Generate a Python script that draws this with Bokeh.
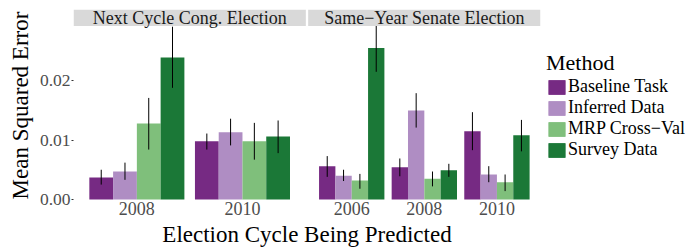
from bokeh.plotting import figure
from bokeh.models import (Range1d, FixedTicker, BoxAnnotation, Label, Legend,
                          LegendItem, ColumnDataSource, NumeralTickFormatter)
from bokeh.embed import file_html
from bokeh.resources import INLINE

# ---------------- data ----------------
methods = ["Baseline Task", "Inferred Data", "MRP Cross\u2212Val", "Survey Data"]
colors = ["#762A83", "#AF8DC3", "#7FBF7B", "#1B7837"]
facets = ["Next Cycle Cong. Election", "Same\u2212Year Senate Election"]

cong_years = ["2008", "2010"]
cong_mse = {
    "Baseline Task": [0.0037, 0.0098],
    "Inferred Data": [0.0047, 0.0113],
    "MRP Cross\u2212Val": [0.0128, 0.0098],
    "Survey Data": [0.0239, 0.0106],
}
cong_lo = {
    "Baseline Task": [0.0025, 0.0084],
    "Inferred Data": [0.0033, 0.0091],
    "MRP Cross\u2212Val": [0.0084, 0.0067],
    "Survey Data": [0.0188, 0.0078],
}
cong_hi = {
    "Baseline Task": [0.0050, 0.0111],
    "Inferred Data": [0.0062, 0.0136],
    "MRP Cross\u2212Val": [0.0171, 0.0129],
    "Survey Data": [0.0291, 0.0133],
}

sen_years = ["2006", "2008", "2010"]
sen_mse = {
    "Baseline Task": [0.0056, 0.0054, 0.0115],
    "Inferred Data": [0.0040, 0.0150, 0.0042],
    "MRP Cross\u2212Val": [0.0032, 0.0035, 0.0029],
    "Survey Data": [0.0255, 0.0049, 0.0108],
}
sen_lo = {
    "Baseline Task": [0.0038, 0.0039, 0.0083],
    "Inferred Data": [0.0031, 0.0121, 0.0029],
    "MRP Cross\u2212Val": [0.0018, 0.0022, 0.0014],
    "Survey Data": [0.0215, 0.0038, 0.0081],
}
sen_hi = {
    "Baseline Task": [0.0073, 0.0069, 0.0147],
    "Inferred Data": [0.0050, 0.0179, 0.0056],
    "MRP Cross\u2212Val": [0.0043, 0.0047, 0.0042],
    "Survey Data": [0.0295, 0.0060, 0.0134],
}

y_ticks = [0.0, 0.01, 0.02]
x_title = "Election Cycle Being Predicted"
y_title = "Mean Squared Error"

# ---------------- layout constants ----------------
FONT = "Liberation Serif"
GAP = 0.01                 # gap between the two facet panels (panel width = 1)
PANEL_X0 = [0.0, 1.0 + GAP]
DODGE_W = 0.9              # total width of a dodged group (in group units)
EXPAND = 0.6               # ggplot discrete expansion
Y0, Y1 = -0.00035, 0.032
STRIP_BOTTOM = 0.0292

p = figure(frame_width=467, frame_height=192,
           x_range=Range1d(0, 2 + GAP), y_range=Range1d(Y0, Y1),
           output_backend="svg", toolbar_location=None,
           min_border_left=73, min_border_top=9, min_border_right=0,
           min_border_bottom=0)
p.outline_line_color = None
p.grid.visible = False
p.background_fill_color = "white"
p.border_fill_color = "white"

facet_data = [
    (cong_years, cong_mse, cong_lo, cong_hi),
    (sen_years, sen_mse, sen_lo, sen_hi),
]

tick_pos, tick_lab = [], []
legend_renderers = {m: [] for m in methods}
nm = len(methods)
for fi, (years, mse, lo, hi) in enumerate(facet_data):
    n = len(years)
    span = n - 1 + 2 * EXPAND
    centers = [PANEL_X0[fi] + (EXPAND + g) / span for g in range(n)]
    tick_pos += centers
    tick_lab += years
    bw = DODGE_W / nm / span
    for mi, m in enumerate(methods):
        xs = [c + (mi - (nm - 1) / 2) * bw for c in centers]
        src = ColumnDataSource(dict(x=xs, top=mse[m], lo=lo[m], hi=hi[m]))
        r = p.vbar(x="x", top="top", bottom=0, width=bw, source=src,
                   fill_color=colors[mi], line_color=None)
        legend_renderers[m].append(r)
        p.segment(x0="x", y0="lo", x1="x", y1="hi", source=src,
                  line_color="black", line_width=1)

# facet strips
for fi, name in enumerate(facets):
    p.add_layout(BoxAnnotation(left=PANEL_X0[fi], right=PANEL_X0[fi] + 1,
                               bottom=STRIP_BOTTOM, top=Y1,
                               fill_color="#D9D9D9", fill_alpha=1,
                               line_color=None))
    p.add_layout(Label(x=PANEL_X0[fi] + 0.5, y=(STRIP_BOTTOM + Y1) / 2,
                       text=name, text_align="center", text_baseline="middle",
                       text_font=FONT, text_font_size="18px",
                       text_color="#1A1A1A"))

# axes
xa = p.xaxis[0]
xa.ticker = FixedTicker(ticks=tick_pos, minor_ticks=[])
xa.major_label_overrides = {t: l for t, l in zip(tick_pos, tick_lab)}
xa.axis_line_color = None
xa.major_tick_line_color = None
xa.minor_tick_line_color = None
xa.major_tick_out = 0
xa.major_label_text_font = FONT
xa.major_label_text_font_size = "18px"
xa.major_label_text_color = "#4D4D4D"
xa.major_label_standoff = 0
xa.axis_label = x_title
xa.axis_label_text_font = FONT
xa.axis_label_text_font_size = "23px"
xa.axis_label_text_font_style = "normal"
xa.axis_label_text_color = "black"
xa.axis_label_standoff = 4

ya = p.yaxis[0]
ya.ticker = FixedTicker(ticks=y_ticks, minor_ticks=[])
ya.formatter = NumeralTickFormatter(format="0.00")
ya.axis_line_color = None
ya.major_tick_line_color = "#333333"
ya.major_tick_out = 2
ya.major_tick_in = 0
ya.minor_tick_line_color = None
ya.major_label_text_font = FONT
ya.major_label_text_font_size = "17.5px"
ya.major_label_text_color = "#4D4D4D"
ya.major_label_standoff = 1
ya.axis_label = y_title
ya.axis_label_text_font = FONT
ya.axis_label_text_font_size = "23px"
ya.axis_label_text_font_style = "normal"
ya.axis_label_text_color = "black"
ya.axis_label_standoff = 4

legend = Legend(items=[LegendItem(label=m, renderers=legend_renderers[m]) for m in methods],
                location=(6, 41), title="Method",
                title_text_font=FONT, title_text_font_size="22px",
                title_text_font_style="normal", title_text_color="black",
                title_standoff=0,
                label_text_font=FONT, label_text_font_size="18px",
                label_text_color="black",
                glyph_width=21, glyph_height=18, label_height=18,
                label_standoff=1, spacing=0, padding=0, margin=3,
                border_line_color=None, background_fill_alpha=0)
p.add_layout(legend, "right")

open("out.html", "w").write(file_html(p, INLINE))
